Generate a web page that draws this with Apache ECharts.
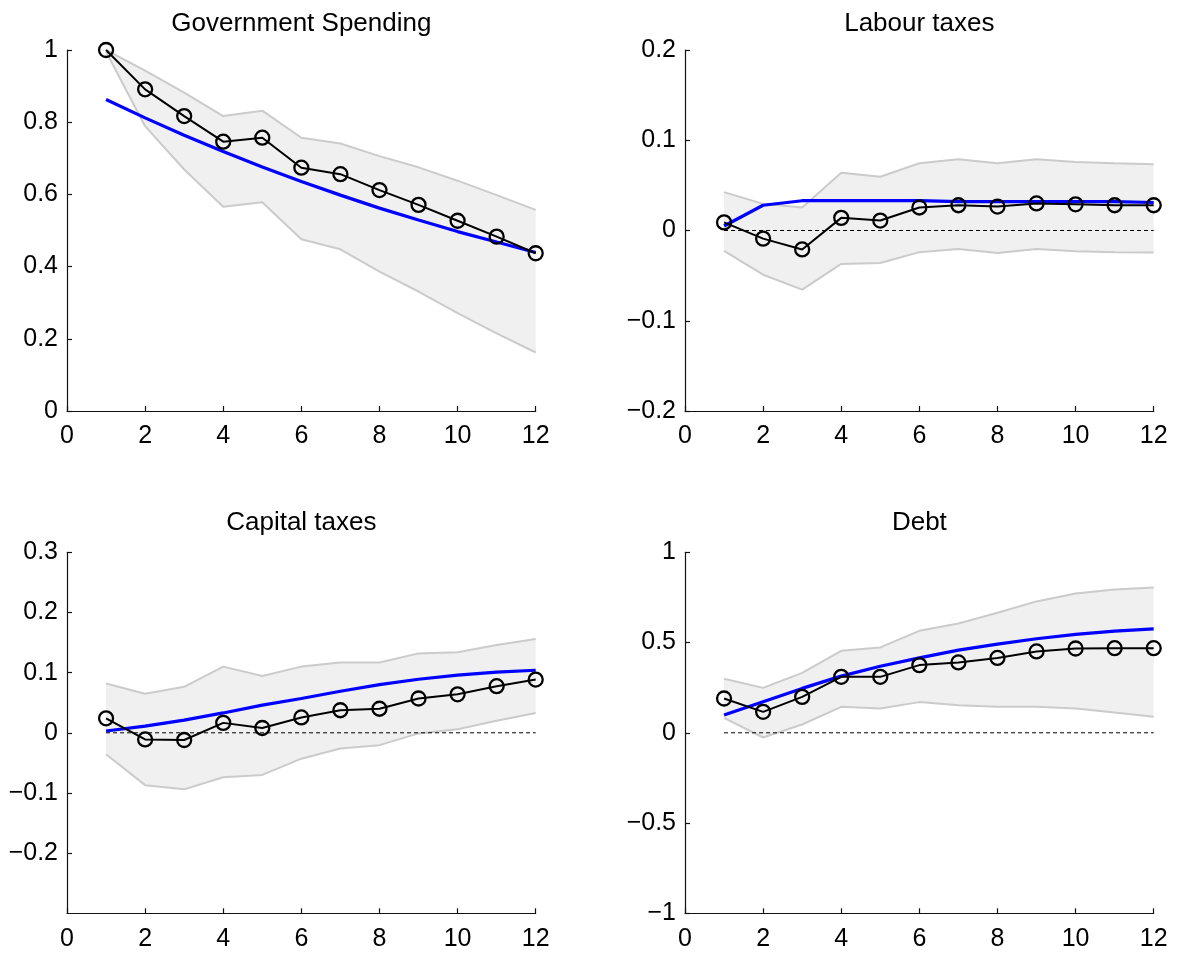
<!DOCTYPE html>
<html>
<head>
<meta charset="utf-8">
<script src="https://cdn.jsdelivr.net/npm/echarts@6/dist/echarts.min.js"></script>
<style>
html,body{margin:0;padding:0;background:#fff;}
#chart{width:1178px;height:955px;}
</style>
</head>
<body>
<div id="chart"></div>
<script>
// ---------- data ----------
const periods = [1, 2, 3, 4, 5, 6, 7, 8, 9, 10, 11, 12];
const titles = ['Government Spending', 'Labour taxes', 'Capital taxes', 'Debt'];

const govEstimate = [1.0, 0.891, 0.817, 0.746, 0.757, 0.674, 0.656, 0.612, 0.571, 0.527, 0.483, 0.437];
const govModel    = [0.863, 0.812, 0.764, 0.719, 0.676, 0.636, 0.598, 0.562, 0.529, 0.497, 0.468, 0.439];
const govUpper    = [1.0, 0.943, 0.882, 0.817, 0.832, 0.757, 0.741, 0.706, 0.675, 0.638, 0.598, 0.557];
const govLower    = [0.995, 0.789, 0.669, 0.566, 0.578, 0.476, 0.448, 0.386, 0.331, 0.271, 0.215, 0.162];

const labEstimate = [0.009, -0.009, -0.021, 0.014, 0.011, 0.0255, 0.028, 0.0265, 0.030, 0.029, 0.028, 0.028];
const labModel    = [0.005, 0.028, 0.033, 0.033, 0.033, 0.033, 0.032, 0.032, 0.032, 0.032, 0.032, 0.031];
const labUpper    = [0.0425, 0.0295, 0.0255, 0.064, 0.0595, 0.0745, 0.079, 0.0745, 0.079, 0.076, 0.0745, 0.0735];
const labLower    = [-0.0225, -0.049, -0.0655, -0.037, -0.036, -0.024, -0.0205, -0.025, -0.0205, -0.023, -0.024, -0.0245];

const capEstimate = [0.024, -0.011, -0.012, 0.0165, 0.008, 0.0255, 0.0375, 0.040, 0.057, 0.064, 0.0775, 0.0885];
const capModel    = [0.003, 0.011, 0.021, 0.033, 0.046, 0.057, 0.069, 0.080, 0.089, 0.096, 0.101, 0.104];
const capUpper    = [0.082, 0.065, 0.0765, 0.110, 0.0945, 0.110, 0.117, 0.117, 0.132, 0.134, 0.146, 0.156];
const capLower    = [-0.0355, -0.087, -0.094, -0.074, -0.070, -0.043, -0.026, -0.0205, -0.001, 0.006, 0.020, 0.033];

const debtEstimate = [0.190, 0.116, 0.199, 0.310, 0.310, 0.375, 0.390, 0.415, 0.451, 0.467, 0.469, 0.469];
const debtModel    = [0.098, 0.172, 0.246, 0.314, 0.369, 0.415, 0.458, 0.491, 0.521, 0.545, 0.563, 0.576];
const debtUpper    = [0.299, 0.249, 0.332, 0.454, 0.473, 0.565, 0.606, 0.665, 0.728, 0.772, 0.794, 0.805];
const debtLower    = [0.083, -0.026, 0.046, 0.144, 0.135, 0.170, 0.153, 0.144, 0.144, 0.135, 0.113, 0.089];

const zeroLine = [[1, 0], [12, 0]];

const xMin = 0, xMax = 12, xStep = 2;
const yMin  = [0, -0.2, -0.3, -1];
const yMax  = [1, 0.2, 0.3, 1];
const yStep = [0.2, 0.1, 0.1, 0.5];
const showZero = [false, true, true, true];

const panels = [
  {est: govEstimate, model: govModel, up: govUpper, lo: govLower},
  {est: labEstimate, model: labModel, up: labUpper, lo: labLower},
  {est: capEstimate, model: capModel, up: capUpper, lo: capLower},
  {est: debtEstimate, model: debtModel, up: debtUpper, lo: debtLower}
];

// ---------- layout ----------
const FONT = '"Liberation Sans", Arial, Helvetica, sans-serif';
const plotW = 468.7, plotH = 361;
const gridPos = [
  {left: 67,  top: 50},
  {left: 685, top: 50},
  {left: 67,  top: 552.3},
  {left: 685, top: 552.3}
];
const titleY = [24, 24, 523, 523];

const fmt = v => {
  let s = String(Math.round(v * 1000) / 1000);
  return s.replace('-', '\u2212');
};

const grid = [], xAxis = [], yAxis = [], series = [], graphic = [];

panels.forEach((p, i) => {
  grid.push({left: gridPos[i].left, top: gridPos[i].top, width: plotW, height: plotH, containLabel: false});
  xAxis.push({
    gridIndex: i, type: 'value', min: xMin, max: xMax, interval: xStep,
    axisLine: {show: true, onZero: false, lineStyle: {color: '#111', width: 1.2}},
    axisTick: {show: true, inside: true, length: 5, lineStyle: {color: '#111', width: 1.2}},
    axisLabel: {color: '#000', fontSize: 25, fontFamily: FONT, margin: 13, formatter: fmt},
    splitLine: {show: false}
  });
  yAxis.push({
    gridIndex: i, type: 'value', min: yMin[i], max: yMax[i], interval: yStep[i],
    axisLine: {show: true, onZero: false, lineStyle: {color: '#111', width: 1.2}},
    axisTick: {show: true, inside: true, length: 5, lineStyle: {color: '#111', width: 1.2}},
    axisLabel: {color: '#000', fontSize: 25, fontFamily: FONT, margin: 9, formatter: fmt,
                showMinLabel: i !== 2},
    splitLine: {show: false}
  });

  // confidence band fill
  series.push({
    type: 'custom', xAxisIndex: i, yAxisIndex: i, silent: true, z: 1,
    data: periods.map((x, j) => [x, p.lo[j], p.up[j]]),
    encode: {x: 0, y: [1, 2]},
    renderItem: (params, api) => {
      if (params.dataIndex !== 0) return null;
      const pts = [];
      periods.forEach((x, j) => pts.push(api.coord([x, p.up[j]])));
      for (let j = periods.length - 1; j >= 0; j--) pts.push(api.coord([periods[j], p.lo[j]]));
      return {type: 'polygon', shape: {points: pts}, style: {fill: '#f0f0f0', stroke: null}};
    }
  });
  // band edges
  [p.up, p.lo].forEach(arr => {
    series.push({
      type: 'line', xAxisIndex: i, yAxisIndex: i, z: 2, silent: true,
      data: periods.map((x, j) => [x, arr[j]]),
      symbol: 'none', lineStyle: {color: '#cbcbcb', width: 2}
    });
  });
  // zero dashed line
  if (showZero[i]) {
    series.push({
      type: 'line', xAxisIndex: i, yAxisIndex: i, z: 3, silent: true,
      data: zeroLine, symbol: 'none',
      lineStyle: {color: '#000', width: 1, type: [4, 3]}
    });
  }
  // model (blue)
  series.push({
    type: 'line', xAxisIndex: i, yAxisIndex: i, z: 4, silent: true,
    data: periods.map((x, j) => [x, p.model[j]]),
    symbol: 'none', lineStyle: {color: '#0000ff', width: 3.2}
  });
  // estimate (black with circles)
  series.push({
    type: 'line', xAxisIndex: i, yAxisIndex: i, z: 5, silent: true,
    data: periods.map((x, j) => [x, p.est[j]]),
    symbol: 'circle', symbolSize: 14, showAllSymbol: true,
    lineStyle: {color: '#000', width: 2},
    itemStyle: {color: 'rgba(0,0,0,0)', borderColor: '#000', borderWidth: 2.3}
  });

  graphic.push({
    type: 'text', x: gridPos[i].left + plotW / 2, y: titleY[i], silent: true,
    style: {text: titles[i], fill: '#000', font: '26px ' + FONT, align: 'center', verticalAlign: 'middle'}
  });
});

const chart = echarts.init(document.getElementById('chart'), null, {renderer: 'canvas'});
chart.setOption({
  animation: false,
  backgroundColor: '#fff',
  grid, xAxis, yAxis, series, graphic
});
</script>
</body>
</html>
